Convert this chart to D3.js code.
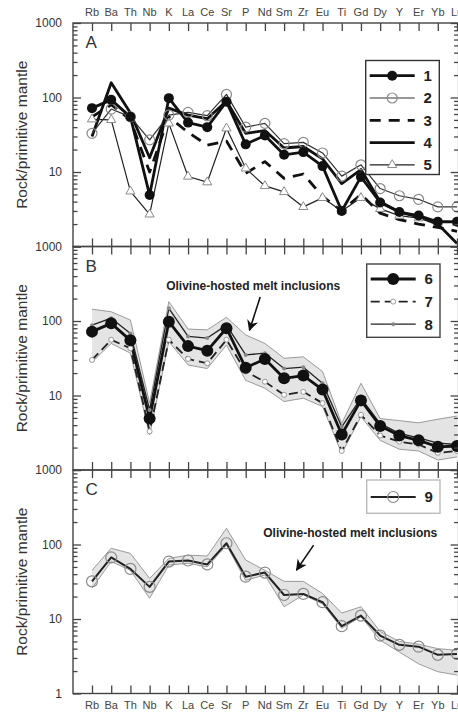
<!DOCTYPE html>
<html><head><meta charset="utf-8">
<script src="https://cdn.jsdelivr.net/npm/d3@7"></script>
<style>
body{margin:0;background:#fff}
svg{display:block}
text{font-family:"Liberation Sans",Arial,sans-serif}
</style>
</head><body>
<svg id="chart" width="458" height="713"></svg>
<script>
// ---------- data ----------
const elements = ["Rb","Ba","Th","Nb","K","La","Ce","Sr","P","Nd","Sm","Zr","Eu","Ti","Gd","Dy","Y","Er","Yb","Lu"];
const yTickValues = [1, 10, 100, 1000];

// Panel A
const s1 = [72, 93, 55, 4.9, 98, 46, 40, 88, 23.5, 31, 17, 18.5, 12, 3.0, 8.6, 3.9, 2.9, 2.6, 2.15, 2.15];
const s2 = [33, 70, 55, 27, 58, 63, 57, 110, 40, 45, 24, 25, 18, 8.8, 12.5, 6.0, 4.8, 4.3, 3.4, 3.4];
const s3 = [55, 80, 50, 10, 55, 34, 23, 26, 9.6, 13.8, 8.2, 9.4, 4.7, 3.0, 5.0, 2.8, 2.3, 2.0, 1.8, 1.6];
const s4 = [30, 158, 62, 15.5, 72, 58, 52, 90, 33, 36, 21, 22, 15, 7.0, 10.8, 4.0, 2.9, 2.5, 2.0, 1.1];
const s5 = [51, 50, 5.5, 2.7, 45, 8.7, 7.3, 38.6, 11.2, 6.5, 5.4, 3.4, 4.5, 3.0, 4.5, 3.2, 2.6, 2.4, 2.1, 2.1];

// Panel B
const s6 = [72, 93, 55, 4.9, 98, 46, 40, 80, 23.5, 31, 17, 18.5, 12, 3.0, 8.6, 3.9, 2.9, 2.5, 2.05, 2.1];
const s7 = [30, 56, 43, 3.3, 56, 31, 27, 56, 21, 15.3, 10.2, 11.2, 7.9, 1.8, 5.5, 2.9, 2.4, 2.2, 1.7, 1.8];
const s8 = [88, 109, 68, 6.4, 148, 62, 59, 88, 35, 37, 23, 24, 14.6, 3.8, 9.2, 4.2, 3.1, 2.7, 2.3, 2.2];
const bandBHigh = [144, 133, 103, 7.9, 182, 78, 76, 112, 65, 50, 31.6, 33, 21, 4.2, 14.6, 4.9, 4.6, 4.3, 4.8, 5.3];
const bandBLow  = [28, 50, 37, 2.95, 53, 25.7, 23, 47.6, 16, 12.5, 8.3, 9.2, 7.1, 1.67, 5.2, 2.5, 1.9, 1.8, 1.36, 1.5];

// Panel C
const s9 = [32, 67, 47, 27, 59, 61, 54, 104, 37, 42, 21, 21.7, 16.8, 8.0, 11.1, 6.0, 4.5, 4.25, 3.3, 3.4];
const bandCHigh = [45, 89, 76, 35, 65, 72, 70, 165, 62, 45, 32, 32, 22, 12, 14.6, 6.8, 5.0, 4.6, 4.0, 3.8];
const bandCLow  = [26, 59, 45, 19, 53, 56, 50, 98, 33, 39, 14.6, 21, 16, 7.5, 10.7, 5.2, 3.6, 2.5, 1.96, 1.77];

const annotText = "Olivine-hosted melt inclusions";
const yTitle = "Rock/primitive mantle";

// ---------- layout ----------
const W = 458, H = 713;
const left = 73, right = 458.6;
const top0 = 23, panelH = 223.5;

const svg = d3.select("#chart");
const x = d3.scalePoint().domain(elements).range([92, 457]);

const styles = {
  s1: {w: 2.8, dash: null, color: "#111", marker: "fill", r: 5},
  s2: {w: 1.2, dash: null, color: "#333", marker: "open", r: 5},
  s3: {w: 2.8, dash: "11,8", color: "#111", marker: null},
  s4: {w: 2.8, dash: null, color: "#111", marker: null},
  s5: {w: 1.2, dash: null, color: "#222", marker: "tri"},
  s6: {w: 2.8, dash: null, color: "#111", marker: "fill", r: 6},
  s7: {w: 1.8, dash: "9,5", color: "#222", marker: "smallopen", r: 2.5},
  s8: {w: 1.3, dash: null, color: "#222", marker: "dot", r: 2},
  s9: {w: 2.0, dash: null, color: "#222", marker: "open", r: 5.5}
};

const panels = [
  {letter: "A", series: [["s4", s4], ["s3", s3], ["s5", s5], ["s2", s2], ["s1", s1]],
   legend: {labels: ["1","2","3","4","5"], keys: ["s1","s2","s3","s4","s5"], x0: 365.7, y0: 37.5, w: 73.6, h: 114, step: 22.3, first: 15.2, border: "#333"},
   band: null, annot: null, topLabels: true, bottomLabels: false,
   yLabels: [100, 10, 1000]},
  {letter: "B", series: [["s7", s7], ["s8", s8], ["s6", s6]],
   legend: {labels: ["6","7","8"], keys: ["s6","s7","s8"], x0: 366.7, y0: 17.5, w: 73.3, h: 73.3, step: 22.6, first: 15, border: "#444"},
   band: [bandBHigh, bandBLow], annot: {tx: "P", tdx: 7.5, tv: 261, ax1: "P", adx1: 14.5, av1: 210, ax2: "P", adx2: 3.8, av2: 75},
   topLabels: false, bottomLabels: false, yLabels: [100, 10, 1000]},
  {letter: "C", series: [["s9", s9]],
   legend: {labels: ["9"], keys: ["s9"], x0: 366.7, y0: 10, w: 73.3, h: 33.3, step: 22, first: 17, border: "#bbb"},
   band: [bandCHigh, bandCLow], annot: {tx: "Ti", tdx: 8.5, tv: 127, ax1: "Zr", adx1: 10.3, av1: 98, ax2: "Sm", adx2: 12.5, av2: 45.5},
   topLabels: false, bottomLabels: true, yLabels: [1000, 100, 10, 1]}
];

svg.append("defs").append("marker")
  .attr("id", "arrow").attr("viewBox", "0 0 10 10").attr("refX", 9).attr("refY", 5)
  .attr("markerWidth", 7).attr("markerHeight", 7).attr("orient", "auto-start-reverse")
  .append("path").attr("d", "M0,0 L10,5 L0,10 L3,5 Z").attr("fill", "#111");

function drawMarker(g, st, cx, cy) {
  if (st.marker === "fill") {
    g.append("circle").attr("cx", cx).attr("cy", cy).attr("r", st.r).attr("fill", "#111");
  } else if (st.marker === "open") {
    g.append("circle").attr("cx", cx).attr("cy", cy).attr("r", st.r)
      .attr("fill", "none").attr("stroke", "#8a8a8a").attr("stroke-width", 1.2);
  } else if (st.marker === "tri") {
    g.append("path").attr("d", d3.symbol(d3.symbolTriangle, 36)())
      .attr("transform", `translate(${cx},${cy})`)
      .attr("fill", "#fff").attr("stroke", "#8a8a8a").attr("stroke-width", 1);
  } else if (st.marker === "smallopen") {
    g.append("circle").attr("cx", cx).attr("cy", cy).attr("r", st.r)
      .attr("fill", "#fff").attr("stroke", "#999").attr("stroke-width", 1);
  } else if (st.marker === "dot") {
    g.append("circle").attr("cx", cx).attr("cy", cy).attr("r", st.r).attr("fill", "#888");
  }
}

panels.forEach((p, i) => {
  const top = top0 + i * panelH, bottom = top + panelH;
  const y = d3.scaleLog().domain([1, 1000]).range([bottom, top]);
  const g = svg.append("g");
  const clipId = "clip" + i;
  svg.select("defs").append("clipPath").attr("id", clipId)
    .append("rect").attr("x", left).attr("y", top).attr("width", right - left).attr("height", panelH);
  const plot = g.append("g").attr("clip-path", `url(#${clipId})`);

  // band
  if (p.band) {
    const [hi, lo] = p.band;
    const area = d3.area().x((d, j) => x(elements[j])).y0((d, j) => y(lo[j])).y1((d, j) => y(hi[j]));
    plot.append("path").datum(hi).attr("d", area).attr("fill", "#e4e4e4").attr("stroke", "none");
    const ln = d3.line().x((d, j) => x(elements[j])).y(d => y(d));
    [hi, lo].forEach(arr => plot.append("path").datum(arr).attr("d", ln)
      .attr("fill", "none").attr("stroke", "#9a9a9a").attr("stroke-width", 1));
  }

  // series
  const line = d3.line().x((d, j) => x(elements[j])).y(d => y(d));
  p.series.forEach(([key, vals]) => {
    const st = styles[key];
    plot.append("path").datum(vals).attr("d", line).attr("fill", "none")
      .attr("stroke", st.color).attr("stroke-width", st.w)
      .attr("stroke-dasharray", st.dash).attr("stroke-linejoin", "round");
  });
  p.series.forEach(([key, vals]) => {
    const st = styles[key];
    if (!st.marker) return;
    vals.forEach((v, j) => drawMarker(plot, st, x(elements[j]), y(v)));
  });

  // frame
  g.append("rect").attr("x", left).attr("y", top).attr("width", right - left).attr("height", panelH)
    .attr("fill", "none").attr("stroke", "#444").attr("stroke-width", 1.4);

  // y axes: major + minor, inward on both sides
  const minor = [];
  for (let d = 1; d < 1000; d *= 10) for (let k = 2; k <= 9; k++) minor.push(d * k);
  const axL = g.append("g").attr("transform", `translate(${left},0)`)
    .call(d3.axisLeft(y).tickValues(yTickValues).tickSize(-8).tickFormat(""));
  const axLm = g.append("g").attr("transform", `translate(${left},0)`)
    .call(d3.axisLeft(y).tickValues(minor).tickSize(-4.5).tickFormat(""));
  const axR = g.append("g").attr("transform", `translate(${right},0)`)
    .call(d3.axisRight(y).tickValues(yTickValues).tickSize(-8).tickFormat(""));
  const axRm = g.append("g").attr("transform", `translate(${right},0)`)
    .call(d3.axisRight(y).tickValues(minor).tickSize(-4.5).tickFormat(""));
  [axL, axLm, axR, axRm].forEach(a => {
    a.select(".domain").remove();
    a.selectAll("line").attr("stroke", "#444").attr("stroke-width", 1.3);
  });
  // y tick labels
  g.selectAll(".ylab").data(p.yLabels).enter().append("text")
    .attr("x", 62).attr("y", d => y(d)).attr("dy", "0.35em").attr("text-anchor", "end")
    .attr("font-size", 12).attr("fill", "#333").text(d => d3.format("d")(d));

  // category ticks top & bottom (inward)
  const axT = g.append("g").attr("transform", `translate(0,${top})`)
    .call(d3.axisTop(x).tickSize(-8).tickFormat(""));
  const axB = g.append("g").attr("transform", `translate(0,${bottom})`)
    .call(d3.axisBottom(x).tickSize(-8).tickFormat(""));
  [axT, axB].forEach(a => {
    a.select(".domain").remove();
    a.selectAll("line").attr("stroke", "#444").attr("stroke-width", 1.3);
  });
  if (p.topLabels) {
    g.selectAll(".tl").data(elements).enter().append("text")
      .attr("x", d => x(d)).attr("y", top - 7).attr("text-anchor", "middle")
      .attr("font-size", 11).attr("fill", "#444").text(d => d);
  }
  if (p.bottomLabels) {
    g.selectAll(".bl").data(elements).enter().append("text")
      .attr("x", d => x(d)).attr("y", bottom + 15).attr("text-anchor", "middle")
      .attr("font-size", 11).attr("fill", "#444").text(d => d);
  }

  // y title
  g.append("text").attr("transform", `translate(27,${(top + bottom) / 2}) rotate(-90)`)
    .attr("text-anchor", "middle").attr("font-size", 15.5).attr("fill", "#333").text(yTitle);

  // panel letter
  g.append("text").attr("x", 85.5).attr("y", top + 25).attr("font-size", 17)
    .attr("fill", "#333").text(p.letter);

  // legend
  const L = p.legend;
  const lg = g.append("g");
  lg.append("rect").attr("x", L.x0).attr("y", top + L.y0).attr("width", L.w).attr("height", L.h)
    .attr("fill", "#fff").attr("stroke", L.border).attr("stroke-width", 1.4);
  L.keys.forEach((k, j) => {
    const st = styles[k];
    const ly = top + L.y0 + L.first + j * L.step;
    lg.append("line").attr("x1", L.x0 + 4).attr("x2", L.x0 + 49).attr("y1", ly).attr("y2", ly)
      .attr("stroke", st.color).attr("stroke-width", st.w).attr("stroke-dasharray", st.dash);
    drawMarker(lg, st, L.x0 + 26.5, ly);
    lg.append("text").attr("x", L.x0 + 62).attr("y", ly).attr("dy", "0.36em")
      .attr("text-anchor", "middle").attr("font-size", 15).attr("font-weight", "bold")
      .attr("fill", "#222").text(L.labels[j]);
  });

  // annotation
  if (p.annot) {
    const a = p.annot;
    g.append("text").attr("x", x(a.tx) + a.tdx).attr("y", y(a.tv)).attr("text-anchor", "middle")
      .attr("font-size", 12).attr("font-weight", "bold").attr("fill", "#222").text(annotText);
    g.append("line").attr("x1", x(a.ax1) + a.adx1).attr("y1", y(a.av1))
      .attr("x2", x(a.ax2) + a.adx2).attr("y2", y(a.av2))
      .attr("stroke", "#111").attr("stroke-width", 1.6).attr("marker-end", "url(#arrow)");
  }
});
</script>
</body></html>
